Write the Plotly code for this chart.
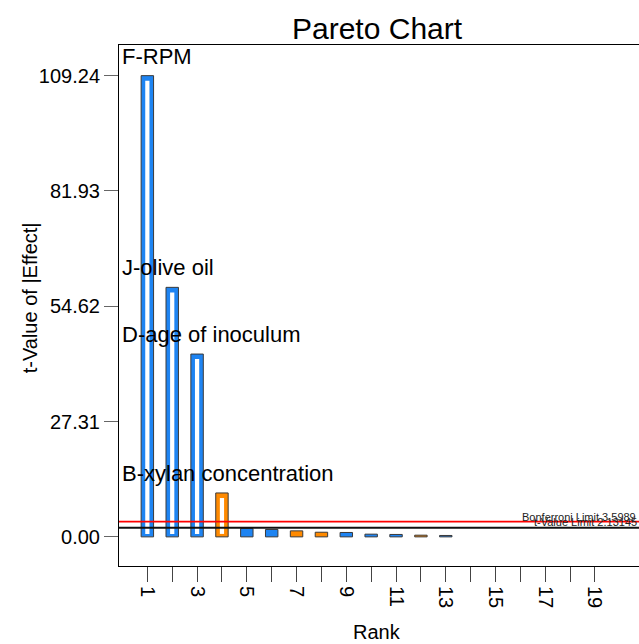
import plotly.graph_objects as go

# ---- data ----
ranks = list(range(1, 14))
effects = [109.24, 59.1, 43.3, 10.4, 2.0, 1.75, 1.42, 1.1, 1.04, 0.64, 0.57, 0.4, 0.33]
signs = ["neg", "neg", "neg", "pos", "neg", "neg", "pos", "pos", "neg", "neg", "neg", "pos", "neg"]
bar_labels = ["F-RPM", "J-olive oil", "D-age of inoculum", "B-xylan concentration"]
bonferroni_limit = 3.5989
t_value_limit = 2.13145
y_ticks = [0.00, 27.31, 54.62, 81.93, 109.24]
x_ticks = list(range(1, 20))

FONT = "Arial, Liberation Sans, sans-serif"
BLUE = "#1E84F2"
ORANGE = "#FF8A00"
colors = [BLUE if s == "neg" else ORANGE for s in signs]

fig = go.Figure()

# outer bars
fig.add_trace(go.Bar(
    x=ranks, y=effects, width=0.5,
    marker=dict(color=colors, line=dict(color="#3a3a3a", width=1)),
    hoverinfo="x+y", showlegend=False,
))

# inner white inset of the bars
inset_base = 0.7
inset_total = 1.9
inner_x = [r for r, e in zip(ranks, effects) if e - inset_total > 0.5]
inner_y = [e - inset_total for e in effects if e - inset_total > 0.5]
fig.add_trace(go.Bar(
    x=inner_x, y=inner_y, base=inset_base, width=0.17,
    marker=dict(color="white", line=dict(width=0)),
    hoverinfo="skip", showlegend=False,
))

fig.update_layout(barmode="overlay")

# limit lines
fig.add_shape(type="line", xref="paper", x0=0, x1=1, yref="y",
              y0=bonferroni_limit, y1=bonferroni_limit,
              line=dict(color="#FF0000", width=1.6))
fig.add_shape(type="line", xref="paper", x0=0, x1=1, yref="y",
              y0=t_value_limit, y1=t_value_limit,
              line=dict(color="#111111", width=2))

annotations = []
for r, e, lab in zip(ranks, effects, bar_labels):
    annotations.append(dict(
        x=0, xref="paper", xanchor="left", xshift=1,
        y=e, yref="y", yanchor="bottom", yshift=5,
        text=lab, showarrow=False,
        font=dict(family=FONT, size=22, color="black"),
    ))

annotations.append(dict(
    x=1, xref="paper", xanchor="right", xshift=-1,
    y=bonferroni_limit, yref="y", yanchor="bottom", yshift=-3,
    text=f"Bonferroni Limit {bonferroni_limit}", showarrow=False,
    font=dict(family=FONT, size=11, color="#222222"),
))
annotations.append(dict(
    x=1, xref="paper", xanchor="right", xshift=0,
    y=t_value_limit, yref="y", yanchor="bottom", yshift=-2,
    text=f"t-Value Limit {t_value_limit}", showarrow=False,
    font=dict(family=FONT, size=11, color="#222222"),
))

# title and axis titles
annotations.append(dict(
    x=0.497, xref="paper", xanchor="center",
    y=1.0326, yref="paper", yanchor="middle",
    text="Pareto Chart", showarrow=False,
    font=dict(family=FONT, size=30, color="black"),
))
annotations.append(dict(
    x=0.496, xref="paper", xanchor="center",
    y=-0.1267, yref="paper", yanchor="middle",
    text="Rank", showarrow=False,
    font=dict(family=FONT, size=20, color="black"),
))
annotations.append(dict(
    x=-0.171, xref="paper", xanchor="center",
    y=0.514, yref="paper", yanchor="middle",
    text="t-Value of |Effect|", textangle=-90, showarrow=False,
    font=dict(family=FONT, size=20, color="black"),
))

fig.update_layout(
    width=639, height=644,
    margin=dict(l=119, r=0, t=45, b=78),
    paper_bgcolor="white", plot_bgcolor="white",
    annotations=annotations,
    font=dict(family=FONT, color="black"),
    xaxis=dict(
        range=[-0.14, 20.77],
        tickmode="array", tickvals=x_ticks,
        ticktext=[str(v) if v % 2 == 1 else "" for v in x_ticks],
        tickangle=90,
        ticks="outside", ticklen=15, tickwidth=1, tickcolor="#444444",
        tickfont=dict(family=FONT, size=20, color="black"),
        showline=True, linecolor="black", linewidth=1, mirror=True,
        showgrid=False, zeroline=False,
    ),
    yaxis=dict(
        range=[-6.9, 116.5],
        tickmode="array", tickvals=y_ticks,
        ticktext=[f"{v:.2f}" for v in y_ticks],
        ticks="outside", ticklen=14, tickwidth=1, tickcolor="#666666",
        tickfont=dict(family=FONT, size=20, color="black"),
        showline=True, linecolor="black", linewidth=1, mirror=False,
        showgrid=False, zeroline=False,
    ),
)

fig.write_html("out.html")
